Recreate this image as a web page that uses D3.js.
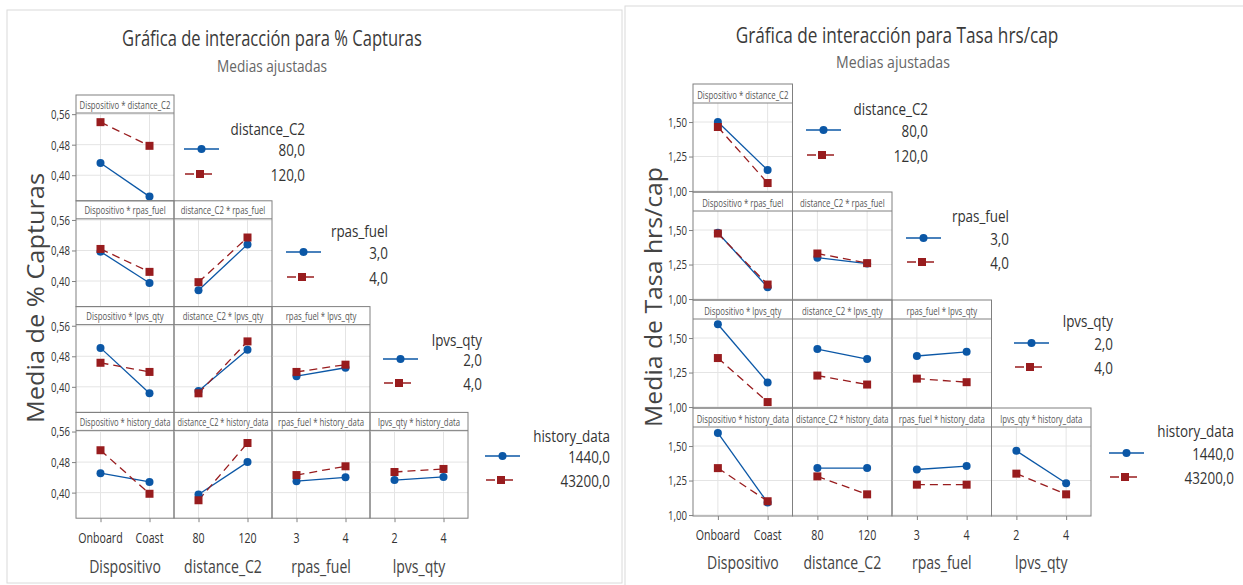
<!DOCTYPE html>
<html>
<head>
<meta charset="utf-8">
<script src="https://cdn.jsdelivr.net/npm/d3@7"></script>
<style>
  html, body { margin: 0; padding: 0; background: #ffffff; }
  svg { display: block; font-family: "Open Sans", "Noto Sans", sans-serif; }
</style>
</head>
<body>
<svg id="chart" width="1243" height="585"></svg>
<script>
// ---------------- DATA ----------------
const leftTitle = "Gráfica de interacción para % Capturas";
const rightTitle = "Gráfica de interacción para Tasa hrs/cap";
const subtitle = "Medias ajustadas";
const leftYTitle = "Media de % Capturas";
const rightYTitle = "Media de Tasa hrs/cap";
const factors = ["Dispositivo", "distance_C2", "rpas_fuel", "lpvs_qty", "history_data"];
const xLevels = [["Onboard", "Coast"], ["80", "120"], ["3", "4"], ["2", "4"]];
const legendLevels = [["80,0", "120,0"], ["3,0", "4,0"], ["2,0", "4,0"], ["1440,0", "43200,0"]];
const capTicks = [0.40, 0.48, 0.56];
const tasaTicks = [1.00, 1.25, 1.50];

// each cell: [ [first level at x1, x2], [second level at x1, x2] ]
// % Capturas
const capDistance = [
  [[0.432, 0.344], [0.539, 0.477]]
];
const capRpas = [
  [[0.477, 0.395], [0.484, 0.424]],
  [[0.376, 0.496], [0.397, 0.514]]
];
const capLpvs = [
  [[0.502, 0.383], [0.463, 0.439]],
  [[0.389, 0.497], [0.383, 0.519]],
  [[0.428, 0.450], [0.439, 0.458]]
];
const capHistory = [
  [[0.451, 0.428], [0.511, 0.397]],
  [[0.395, 0.480], [0.380, 0.530]],
  [[0.430, 0.440], [0.446, 0.469]],
  [[0.433, 0.441], [0.454, 0.462]]
];
// Tasa hrs/cap
const tasaDistance = [
  [[1.500, 1.152], [1.464, 1.058]]
];
const tasaRpas = [
  [[1.480, 1.085], [1.475, 1.105]],
  [[1.300, 1.257], [1.330, 1.260]]
];
const tasaLpvs = [
  [[1.600, 1.178], [1.355, 1.036]],
  [[1.420, 1.348], [1.228, 1.163]],
  [[1.370, 1.400], [1.206, 1.180]]
];
const tasaHistory = [
  [[1.595, 1.090], [1.340, 1.100]],
  [[1.340, 1.340], [1.280, 1.150]],
  [[1.330, 1.355], [1.220, 1.220]],
  [[1.465, 1.230], [1.300, 1.150]]
];

// ---------------- STYLE / LAYOUT ----------------
const BLUE = "#0b57a6";
const RED = "#981c1e";
const BORDER = "#808080";
const GRID = "#e4e4e4";

const svg = d3.select("#chart");

// Position a text with a horizontal compression (scale) transform.
// ax / ay may be functions of the datum. k = squeeze factor, or target = width in px.
function place(sel, ax, ay, align, k, target, maxW, rot) {
  sel.each(function () {
    const d = d3.select(this).datum();
    this.setAttribute("x", 0);
    this.setAttribute("y", 0);
    this.setAttribute("text-anchor", align);
    const w = this.getComputedTextLength();
    let sx = target != null ? target / w : k;
    if (maxW != null && w * sx > maxW) sx = maxW / w;
    const px = typeof ax === "function" ? ax(d) : ax;
    const py = typeof ay === "function" ? ay(d) : ay;
    this.setAttribute("transform",
      `translate(${px.toFixed(1)},${py.toFixed(1)})${rot ? ` rotate(${rot})` : ""} scale(${sx.toFixed(4)},1)`);
  });
  return sel;
}

const fmtComma = v => d3.format(".2f")(v).replace(".", ",");

const leftCfg = {
  frame: { x: 7, y: 10, w: 615, h: 573 },
  title: leftTitle, titleX: 272, titleY: 46, titleW: 300,
  subX: 272, subY: 72, subW: 110,
  yTitle: leftYTitle, yTitleX: 35, yTitleY: 298, yTitleW: 250,
  x0: 76, colW: 98, top: 95, rowH: 105.8, headH: 18,
  domain: [0.333, 0.563], ticks: capTicks,
  rows: [capDistance, capRpas, capLpvs, capHistory],
  tickLabelY: 543, axisTitleY: 573,
  legLineX: [184, 286, 383, 485], legRight: [305, 388, 482, 610],
  legY: [[128, 149, 174], [230, 252, 277], [339, 359, 383], [435, 456, 480]]
};
const rightCfg = {
  frame: { x: 625, y: 6, w: 640, h: 600 },
  title: rightTitle, titleX: 897, titleY: 43, titleW: 323,
  subX: 893, subY: 68, subW: 114,
  yTitle: rightYTitle, yTitleX: 653, yTitleY: 297, yTitleW: 260,
  x0: 693, colW: 99.5, top: 84, rowH: 108, headH: 19,
  domain: [0.993, 1.638], ticks: tasaTicks,
  rows: [tasaDistance, tasaRpas, tasaLpvs, tasaHistory],
  tickLabelY: 540, axisTitleY: 569,
  legLineX: [806, 906, 1014, 1109], legRight: [928, 1009, 1113, 1234],
  legY: [[108, 130, 155], [215, 238, 262], [320, 343, 367], [430, 453, 477]]
};

function drawChart(cfg) {
  const g = svg.append("g");

  // outer frame
  g.append("rect")
    .attr("x", cfg.frame.x).attr("y", cfg.frame.y)
    .attr("width", cfg.frame.w).attr("height", cfg.frame.h)
    .attr("fill", "none").attr("stroke", "#dadada").attr("stroke-width", 1);

  // titles
  place(g.append("text")
    .attr("font-size", 21).attr("fill", "#3a3a3a")
    .text(cfg.title), cfg.titleX, cfg.titleY, "middle", null, cfg.titleW);
  place(g.append("text")
    .attr("font-size", 17).attr("fill", "#666")
    .text(subtitle), cfg.subX, cfg.subY, "middle", null, cfg.subW);

  // y title (vertical; not compressed)
  place(g.append("text")
    .attr("dominant-baseline", "central")
    .attr("font-size", 23).attr("fill", "#444")
    .text(cfg.yTitle), cfg.yTitleX, cfg.yTitleY, "middle", null, cfg.yTitleW, null, -90);

  const nRows = cfg.rows.length;

  cfg.rows.forEach((row, r) => {
    const top = cfg.top + r * cfg.rowH;
    const plotTop = top + cfg.headH;
    const plotBot = top + cfg.rowH;
    const y = d3.scaleLinear().domain(cfg.domain).range([plotBot, plotTop]);

    row.forEach((cell, c) => {
      const x0 = cfg.x0 + c * cfg.colW;
      const x = d3.scalePoint().domain(xLevels[c]).range([x0, x0 + cfg.colW]).padding(0.5);
      const pg = g.append("g");

      // grid
      pg.selectAll("line.hg").data(cfg.ticks).join("line")
        .attr("x1", x0).attr("x2", x0 + cfg.colW)
        .attr("y1", d => y(d)).attr("y2", d => y(d))
        .attr("stroke", GRID).attr("stroke-width", 1);
      pg.selectAll("line.vg").data(xLevels[c]).join("line")
        .attr("x1", d => x(d)).attr("x2", d => x(d))
        .attr("y1", plotTop).attr("y2", plotBot)
        .attr("stroke", GRID).attr("stroke-width", 1);

      // series
      const line = d3.line().x(d => x(d[0])).y(d => y(d[1]));
      cell.forEach((vals, s) => {
        const pts = vals.map((v, i) => [xLevels[c][i], v]);
        pg.append("path").datum(pts)
          .attr("d", line).attr("fill", "none")
          .attr("stroke", s === 0 ? BLUE : RED)
          .attr("stroke-width", 1.3)
          .attr("stroke-dasharray", s === 0 ? null : "8,5");
      });
      cell.forEach((vals, s) => {
        const pts = vals.map((v, i) => [xLevels[c][i], v]);
        if (s === 0) {
          pg.selectAll(null).data(pts).join("circle")
            .attr("cx", d => x(d[0])).attr("cy", d => y(d[1])).attr("r", 4)
            .attr("fill", BLUE);
        } else {
          pg.selectAll(null).data(pts).join("rect")
            .attr("x", d => x(d[0]) - 4).attr("y", d => y(d[1]) - 4)
            .attr("width", 8).attr("height", 8).attr("fill", RED);
        }
      });

      // panel border + header
      pg.append("rect")
        .attr("x", x0).attr("y", top).attr("width", cfg.colW).attr("height", cfg.rowH)
        .attr("fill", "none").attr("stroke", BORDER).attr("stroke-width", 1);
      pg.append("line")
        .attr("x1", x0).attr("x2", x0 + cfg.colW)
        .attr("y1", plotTop).attr("y2", plotTop)
        .attr("stroke", BORDER).attr("stroke-width", 1);
      place(pg.append("text")
        .attr("font-size", 10).attr("fill", "#555")
        .text(`${factors[c]} * ${factors[r + 1]}`),
        x0 + cfg.colW / 2, plotTop - 4.5, "middle", 0.78, null, cfg.colW - 7);

      // x axis (last row)
      if (r === nRows - 1) {
        const ax = g.append("g")
          .attr("transform", `translate(0,${plotBot})`)
          .call(d3.axisBottom(x).tickSize(4).tickSizeOuter(0));
        ax.select(".domain").remove();
        ax.selectAll(".tick line").attr("stroke", BORDER);
        ax.selectAll(".tick text").remove();
        place(g.selectAll(null).data(xLevels[c]).join("text")
          .attr("font-size", 14).attr("fill", "#333")
          .text(d => d), d => x(d), cfg.tickLabelY, "middle", 0.76);
        place(g.append("text")
          .attr("font-size", 18).attr("fill", "#444")
          .text(factors[c]), x0 + cfg.colW / 2, cfg.axisTitleY, "middle", 0.78);
      }
    });

    // y axis
    const ay = g.append("g")
      .attr("transform", `translate(${cfg.x0},0)`)
      .call(d3.axisLeft(y).tickValues(cfg.ticks).tickFormat(fmtComma).tickSize(4).tickPadding(3));
    ay.select(".domain").remove();
    ay.selectAll(".tick line").attr("stroke", BORDER);
    ay.selectAll(".tick text").remove();
    place(g.selectAll(null).data(cfg.ticks).join("text")
      .attr("dominant-baseline", "central")
      .attr("font-size", 12).attr("fill", "#333")
      .text(d => fmtComma(d)), cfg.x0 - 6, d => y(d), "end", 0.8);

    // legend for this row
    const lx = cfg.legLineX[r], lr = cfg.legRight[r], ly = cfg.legY[r];
    place(g.append("text")
      .attr("dominant-baseline", "central")
      .attr("font-size", 17).attr("fill", "#333")
      .text(factors[r + 1]), lr, ly[0], "end", 0.79);
    legendLevels[r].forEach((lab, s) => {
      const yy = ly[s + 1];
      if (s === 0) {
        g.append("line")
          .attr("x1", lx).attr("x2", lx + 35)
          .attr("y1", yy).attr("y2", yy)
          .attr("stroke", BLUE).attr("stroke-width", 1.5);
        g.append("circle").attr("cx", lx + 17.5).attr("cy", yy).attr("r", 4).attr("fill", BLUE);
      } else {
        g.append("line")
          .attr("x1", lx + 1).attr("x2", lx + 10)
          .attr("y1", yy).attr("y2", yy)
          .attr("stroke", RED).attr("stroke-width", 1.5);
        g.append("line")
          .attr("x1", lx + 18).attr("x2", lx + 28)
          .attr("y1", yy).attr("y2", yy)
          .attr("stroke", RED).attr("stroke-width", 1.5);
        g.append("rect").attr("x", lx + 12).attr("y", yy - 4).attr("width", 8).attr("height", 8).attr("fill", RED);
      }
      place(g.append("text")
        .attr("dominant-baseline", "central")
        .attr("font-size", 17).attr("fill", "#333")
        .text(lab), lr, yy, "end", 0.79);
    });
  });
}

drawChart(leftCfg);
drawChart(rightCfg);
</script>
</body>
</html>
